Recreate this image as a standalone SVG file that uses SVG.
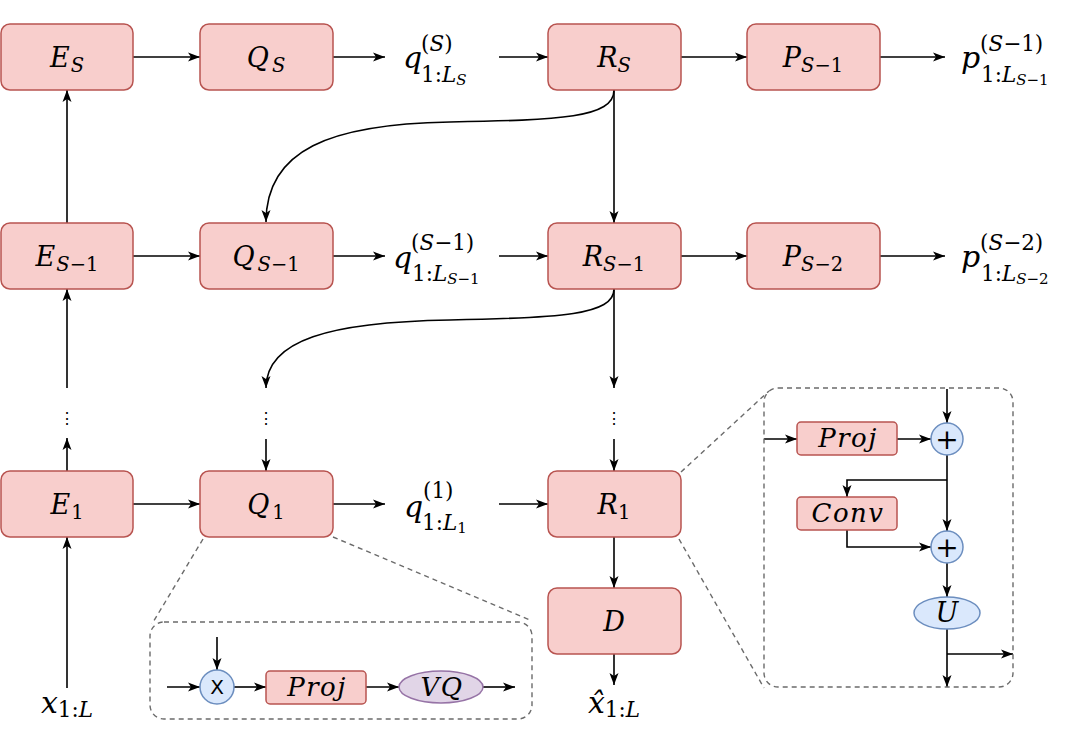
<svg xmlns="http://www.w3.org/2000/svg" width="1080" height="752" viewBox="0 0 1080 752">
<style>
.box{fill:#f8cecc;stroke:#b85450;stroke-width:1.5}
.blue{fill:#dae8fc;stroke:#6c8ebf;stroke-width:1.5}
.purp{fill:#e1d5e7;stroke:#9673a6;stroke-width:1.5}
.ln{fill:none;stroke:#000;stroke-width:1.6;marker-end:url(#ah)}
.dash{fill:none;stroke:#6b6b6b;stroke-width:1.4;stroke-dasharray:5 4}
.m{font-style:italic;fill:#000}
.up{font-style:normal}
.bl{font-size:27px;text-anchor:middle}
.sb{font-size:19.5px}
.lq{font-size:30px}
.ls{font-size:21.5px}
.lss{font-size:15px}
.dots{font-size:16px;text-anchor:middle}
.ib{font-size:26px;text-anchor:middle;letter-spacing:1.5px}
.plus{font-size:28px;text-anchor:middle}
.sans{font-size:20px;text-anchor:middle}
</style>
<defs>
<marker id="ah" viewBox="0 0 12 10" refX="12" refY="5" markerWidth="12" markerHeight="10" orient="auto" markerUnits="userSpaceOnUse"><path d="M0,0.5 L12,5 L0,9.5 L3,5 z" fill="#000"/></marker>
</defs>
<rect width="1080" height="752" fill="#fff"/>

<g id="guides">
<line class="dash" x1="203" y1="539" x2="152" y2="624"/>
<line class="dash" x1="333" y1="537" x2="530" y2="620"/>
<line class="dash" x1="681" y1="472" x2="769" y2="391"/>
<line class="dash" x1="679" y1="539" x2="764" y2="688"/>
</g>

<g id="connectors">
<line class="ln" x1="133" y1="57" x2="200" y2="57"/>
<line class="ln" x1="333" y1="57" x2="385" y2="57"/>
<line class="ln" x1="499" y1="57" x2="548" y2="57"/>
<line class="ln" x1="681" y1="57" x2="747" y2="57"/>
<line class="ln" x1="880" y1="57" x2="945" y2="57"/>
<line class="ln" x1="133" y1="256" x2="200" y2="256"/>
<line class="ln" x1="333" y1="256" x2="385" y2="256"/>
<line class="ln" x1="499" y1="256" x2="548" y2="256"/>
<line class="ln" x1="681" y1="256" x2="747" y2="256"/>
<line class="ln" x1="880" y1="256" x2="945" y2="256"/>
<line class="ln" x1="133" y1="504" x2="200" y2="504"/>
<line class="ln" x1="333" y1="504" x2="385" y2="504"/>
<line class="ln" x1="499" y1="504" x2="548" y2="504"/>
<line class="ln" x1="67" y1="223" x2="67" y2="90"/>
<line class="ln" x1="67" y1="388" x2="67" y2="289"/>
<line class="ln" x1="67" y1="471" x2="67" y2="438"/>
<line class="ln" x1="67" y1="688" x2="67" y2="537"/>
<path class="ln" d="M614,90 C614,118 560,120 450,122 C330,124 266,150 266,222"/>
<path class="ln" d="M614,289 C614,315 560,318 450,320 C330,322 266,340 266,388"/>
<line class="ln" x1="266" y1="439" x2="266" y2="471"/>
<line class="ln" x1="614" y1="90" x2="614" y2="223"/>
<line class="ln" x1="614" y1="289" x2="614" y2="388"/>
<line class="ln" x1="614" y1="439" x2="614" y2="471"/>
<line class="ln" x1="614" y1="537" x2="614" y2="588"/>
<line class="ln" x1="614" y1="654" x2="614" y2="685"/>
<line class="ln" x1="167" y1="687" x2="200" y2="687"/>
<line class="ln" x1="217" y1="637" x2="217" y2="670"/>
<line class="ln" x1="234" y1="687" x2="266" y2="687"/>
<line class="ln" x1="366" y1="687" x2="399" y2="687"/>
<line class="ln" x1="483" y1="687" x2="515" y2="687"/>
<line class="ln" x1="947" y1="389" x2="947" y2="423"/>
<line class="ln" x1="764" y1="439" x2="797" y2="439"/>
<line class="ln" x1="897" y1="439" x2="931" y2="439"/>
<line class="ln" x1="947" y1="455" x2="947" y2="531"/>
<path class="ln" d="M947,480 L847,480 L847,497"/>
<path class="ln" d="M847,530 L847,547 L931,547"/>
<line class="ln" x1="947" y1="563" x2="947" y2="597"/>
<line class="ln" x1="947" y1="629" x2="947" y2="687"/>
<line class="ln" x1="947" y1="654" x2="1013" y2="654"/>
</g>

<g id="nodes" font-family="DejaVu Serif, serif">
<g id="E_S"><rect class="box" x="1" y="24" width="132" height="66" rx="9"/><text class="m bl" x="67" y="67">E<tspan class="sb" dx="1" dy="5">S</tspan></text></g>
<g id="Q_S"><rect class="box" x="200" y="24" width="133" height="66" rx="9"/><text class="m bl" x="266" y="67">Q<tspan class="sb" dx="3" dy="5">S</tspan></text></g>
<g id="q_S"><text class="m lq" x="403" y="68">q</text><text class="m ls" x="421" y="51"><tspan class="up">(</tspan>S<tspan class="up">)</tspan></text><text class="m ls" x="421" y="82"><tspan class="up">1:</tspan>L<tspan class="lss" dy="3">S</tspan></text></g>
<g id="R_S"><rect class="box" x="548" y="24" width="133" height="66" rx="9"/><text class="m bl" x="614" y="67">R<tspan class="sb" dy="5">S</tspan></text></g>
<g id="P_S1"><rect class="box" x="747" y="24" width="133" height="66" rx="9"/><text class="m bl" x="813" y="67">P<tspan class="sb" dy="5">S<tspan class="up">−1</tspan></tspan></text></g>
<g id="p_S1"><text class="m lq" x="961" y="68">p</text><text class="m ls" x="980" y="51"><tspan class="up">(</tspan>S<tspan class="up">−1)</tspan></text><text class="m ls" x="981" y="82"><tspan class="up">1:</tspan>L<tspan class="lss" dy="3">S<tspan class="up">−1</tspan></tspan></text></g>

<g id="E_S1"><rect class="box" x="1" y="223" width="132" height="66" rx="9"/><text class="m bl" x="67" y="266">E<tspan class="sb" dx="1" dy="5">S<tspan class="up">−1</tspan></tspan></text></g>
<g id="Q_S1"><rect class="box" x="200" y="223" width="133" height="66" rx="9"/><text class="m bl" x="266" y="266">Q<tspan class="sb" dx="3" dy="5">S<tspan class="up">−1</tspan></tspan></text></g>
<g id="q_S1"><text class="m lq" x="393" y="268">q</text><text class="m ls" x="411" y="250"><tspan class="up">(</tspan>S<tspan class="up">−1)</tspan></text><text class="m ls" x="412" y="281"><tspan class="up">1:</tspan>L<tspan class="lss" dy="3">S<tspan class="up">−1</tspan></tspan></text></g>
<g id="R_S1"><rect class="box" x="548" y="223" width="133" height="66" rx="9"/><text class="m bl" x="614" y="266">R<tspan class="sb" dy="5">S<tspan class="up">−1</tspan></tspan></text></g>
<g id="P_S2"><rect class="box" x="747" y="223" width="133" height="66" rx="9"/><text class="m bl" x="813" y="266">P<tspan class="sb" dy="5">S<tspan class="up">−2</tspan></tspan></text></g>
<g id="p_S2"><text class="m lq" x="961" y="267">p</text><text class="m ls" x="980" y="250"><tspan class="up">(</tspan>S<tspan class="up">−2)</tspan></text><text class="m ls" x="981" y="281"><tspan class="up">1:</tspan>L<tspan class="lss" dy="3">S<tspan class="up">−2</tspan></tspan></text></g>

<g id="dots"><text class="dots" x="67" y="424">⋮</text><text class="dots" x="266" y="424">⋮</text><text class="dots" x="614" y="424">⋮</text></g>

<g id="E_1"><rect class="box" x="1" y="471" width="132" height="66" rx="9"/><text class="m bl" x="67" y="514">E<tspan class="sb up" dx="1" dy="5">1</tspan></text></g>
<g id="Q_1"><rect class="box" x="200" y="471" width="133" height="66" rx="9"/><text class="m bl" x="266" y="514">Q<tspan class="sb up" dx="3" dy="5">1</tspan></text></g>
<g id="q_1"><text class="m lq" x="404" y="517">q</text><text class="m ls up" x="423" y="498">(1)</text><text class="m ls" x="422" y="530"><tspan class="up">1:</tspan>L<tspan class="lss up" dy="3">1</tspan></text></g>
<g id="R_1"><rect class="box" x="548" y="471" width="133" height="66" rx="9"/><text class="m bl" x="614" y="514">R<tspan class="sb up" dy="5">1</tspan></text></g>
<g id="D"><rect class="box" x="548" y="588" width="133" height="66" rx="9"/><text class="m bl" x="614" y="631">D</text></g>

<g id="x_in"><text class="m lq" x="67" y="713" text-anchor="middle">x<tspan class="ls" dy="4"><tspan class="up">1:</tspan>L</tspan></text></g>
<g id="x_out"><text class="m lq" x="614" y="713" text-anchor="middle">x&#x302;<tspan class="ls" dy="4"><tspan class="up">1:</tspan>L</tspan></text></g>

<g id="inset_Q">
<rect class="dash" x="150" y="622" width="382" height="97" rx="14"/>
<g id="mult"><circle class="blue" cx="217" cy="687" r="17"/><text class="sans" x="217" y="694" font-family="DejaVu Sans, sans-serif">X</text></g>
<g id="projQ"><rect class="box" x="266" y="671" width="100" height="33" rx="4"/><text class="m ib" x="317" y="696">Proj</text></g>
<g id="VQ"><ellipse class="purp" cx="441" cy="687" rx="42" ry="16"/><text class="m ib" x="442" y="696">VQ</text></g>
</g>

<g id="inset_R">
<rect class="dash" x="764" y="388" width="249" height="299" rx="14"/>
<g id="projR"><rect class="box" x="797" y="422" width="100" height="33" rx="4"/><text class="m ib" x="848" y="447">Proj</text></g>
<g id="plus1"><circle class="blue" cx="947" cy="439" r="16"/><text class="plus" x="947" y="449">+</text></g>
<g id="conv"><rect class="box" x="797" y="497" width="100" height="33" rx="4"/><text class="m ib" x="848" y="522">Conv</text></g>
<g id="plus2"><circle class="blue" cx="947" cy="547" r="16"/><text class="plus" x="947" y="557">+</text></g>
<g id="U"><ellipse class="blue" cx="947" cy="613" rx="33" ry="16"/><text class="m bl" x="947" y="622">U</text></g>
</g>
</g>
</svg>
